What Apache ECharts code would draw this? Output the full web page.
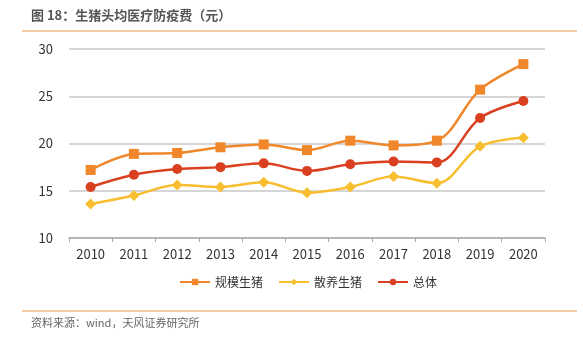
<!DOCTYPE html>
<html>
<head>
<meta charset="utf-8">
<script src="https://cdn.jsdelivr.net/npm/echarts@6/dist/echarts.min.js"></script>
<style>
  html, body { margin: 0; padding: 0; background: #fff; }
  #chart { width: 583px; height: 341px; }
</style>
</head>
<body>
<div id="chart"></div>
<script>
// Years on the category axis
var years = ['2010', '2011', '2012', '2013', '2014', '2015', '2016', '2017', '2018', '2019', '2020'];
// Per-head medical & epidemic-prevention cost (yuan)
var largeScale = [17.2, 18.9, 19.0, 19.6, 19.9, 19.3, 20.3, 19.8, 20.3, 25.7, 28.4];
var backyard   = [13.6, 14.5, 15.6, 15.4, 15.9, 14.8, 15.4, 16.5, 15.8, 19.7, 20.6];
var overall    = [15.4, 16.7, 17.3, 17.5, 17.9, 17.1, 17.8, 18.1, 18.0, 22.7, 24.5];
var seriesNames = ['规模生猪', '散养生猪', '总体'];
var yTicks = [10, 15, 20, 25, 30];

var font = '"Noto Sans CJK SC", "Noto Sans", sans-serif';
var colors = ['#F0872A', '#F8BE30', '#DA4020'];
var symbols = ['rect', 'diamond', 'circle'];
var symbolSizes = [10, 11, 10];
var values = [largeScale, backyard, overall];

var chart = echarts.init(document.getElementById('chart'), null, { renderer: 'canvas' });

chart.setOption({
  animation: false,
  backgroundColor: '#fff',
  textStyle: { fontFamily: font },
  graphic: [
    {
      type: 'text', left: 31, top: 9,
      style: { text: '图 18：生猪头均医疗防疫费（元）', fill: '#555', font: 'bold 13px ' + font }
    },
    {
      type: 'line', shape: { x1: 22, y1: 31, x2: 577, y2: 31 },
      style: { stroke: '#EA9550', lineWidth: 1 }
    },
    {
      type: 'line', shape: { x1: 22, y1: 311, x2: 577, y2: 311 },
      style: { stroke: '#EA9550', lineWidth: 1 }
    },
    {
      type: 'text', left: 31, top: 317,
      style: { text: '资料来源：wind，天风证券研究所', fill: '#666', font: '11px ' + font }
    }
  ],
  grid: { left: 69, right: 38, top: 49, bottom: 103 },
  legend: {
    bottom: 48, left: 174,
    itemWidth: 30, itemHeight: 8, itemGap: 15,
    textStyle: { fontSize: 12, color: '#333', fontFamily: font },
    data: seriesNames
  },
  xAxis: {
    type: 'category',
    data: years,
    boundaryGap: true,
    axisLine: { lineStyle: { color: '#aaa', width: 1.5 } },
    axisTick: { show: true, lineStyle: { color: '#aaa' }, length: 4 },
    axisLabel: { color: '#333', fontSize: 13, margin: 10, fontFamily: font }
  },
  yAxis: {
    type: 'value',
    min: yTicks[0], max: yTicks[yTicks.length - 1], interval: 5,
    axisLine: { show: false },
    axisTick: { show: false },
    axisLabel: { color: '#333', fontSize: 13, margin: 16, fontFamily: font },
    splitLine: { lineStyle: { color: '#c8c8c8', width: 1.5 } }
  },
  series: seriesNames.map(function (name, i) {
    return {
      name: name,
      type: 'line',
      data: values[i],
      smooth: 0.35,
      symbol: symbols[i],
      symbolSize: symbolSizes[i],
      showAllSymbol: true,
      lineStyle: { color: colors[i], width: 2.5 },
      itemStyle: { color: colors[i] },
      z: i === 0 ? 3 : (i === 2 ? 4 : 2)
    };
  })
});
</script>
</body>
</html>
